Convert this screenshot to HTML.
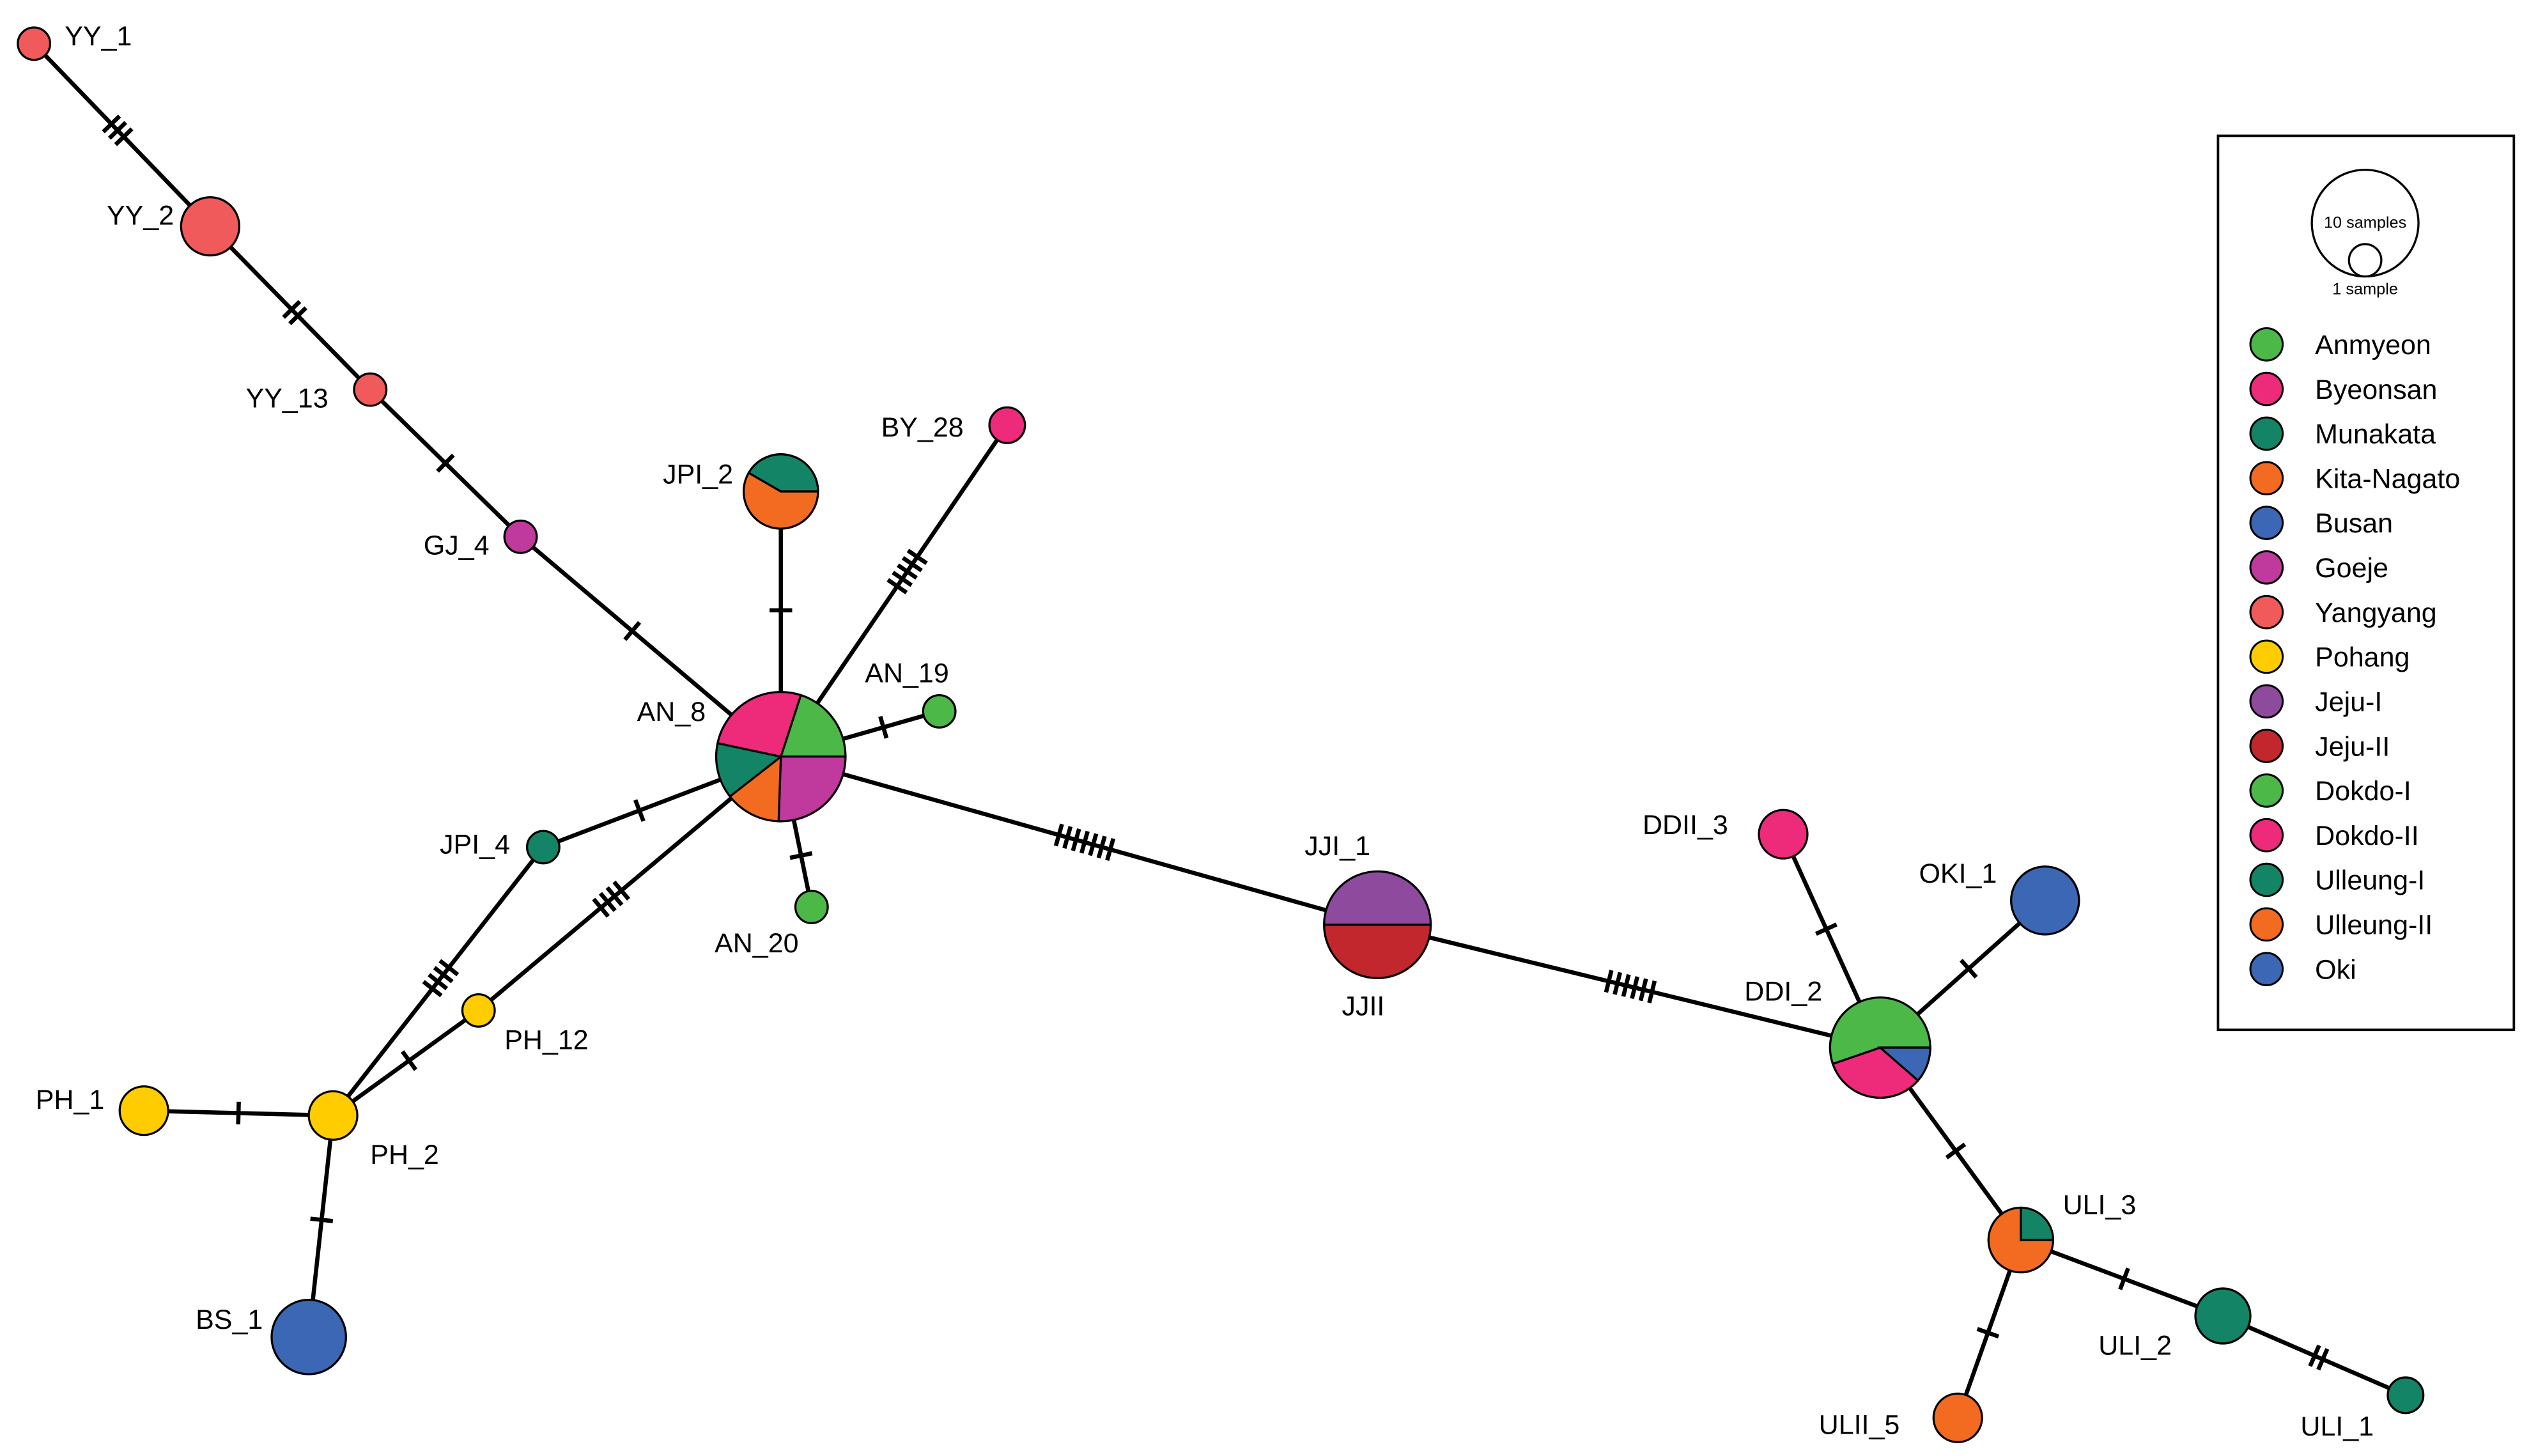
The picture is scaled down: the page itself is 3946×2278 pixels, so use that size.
<!DOCTYPE html>
<html><head><meta charset="utf-8"><style>
html,body{margin:0;padding:0;background:#fff;}
svg{display:block;}
text{font-family:"Liberation Sans",Arial,sans-serif;}
</style></head><body>
<svg id="s" width="3946" height="2278" viewBox="0 0 1560 900.6" xmlns="http://www.w3.org/2000/svg">
<rect x="0" y="0" width="1560" height="901" fill="#fff"/>
<g id="edges" stroke="#000" stroke-width="2.6" fill="none"></g>
<g id="nodes" stroke="#000" stroke-width="1.3"></g>
<g id="labels" font-size="17" fill="#000"></g>
<g id="legend">
<rect x="1372" y="84" width="183" height="553" fill="#fff" stroke="#000" stroke-width="1.5"/>
<circle cx="1463" cy="138" r="33" fill="#fff" stroke="#000" stroke-width="1.3"/>
<circle cx="1463" cy="161" r="10" fill="#fff" stroke="#000" stroke-width="1.3"/>
<text x="1463" y="141" font-size="10" text-anchor="middle">10 samples</text>
<text x="1463" y="182" font-size="10" text-anchor="middle">1 sample</text>
</g>
</svg>
<script>
var C={g:"#4cb848",p:"#ee2a7b",t:"#138466",o:"#f26b21",b:"#3b67b4",m:"#c0399c",r:"#f05a5a",y:"#ffcc00",pu:"#8e4b9e",dr:"#c1272d"};
var N={
YY_1:[21,27,10,[["r",0,360]]],YY_2:[130,140,18,[["r",0,360]]],YY_13:[229,241,10,[["r",0,360]]],
GJ_4:[322,332,10,[["m",0,360]]],
AN_8:[483,468,40,[["g",18,90],["m",90,182],["o",182,232],["t",232,282],["p",282,378]]],
JPI_2:[483,304,23,[["t",300,450],["o",90,300]]],
BY_28:[623,263,11,[["p",0,360]]],AN_19:[581,440,10,[["g",0,360]]],AN_20:[502,561,10,[["g",0,360]]],
JPI_4:[336,524,10,[["t",0,360]]],PH_12:[296,625,10,[["y",0,360]]],PH_1:[89,687,15,[["y",0,360]]],
PH_2:[206,690,15,[["y",0,360]]],BS_1:[191,827,23,[["b",0,360]]],
JJI:[852,572,33,[["pu",270,450],["dr",90,270]]],
DDII_3:[1103,516,15,[["p",0,360]]],OKI_1:[1265,557,21,[["b",0,360]]],
DDI_2:[1163,648,31,[["g",251,450],["b",90,131],["p",131,251]]],
ULI_3:[1250,767,20,[["t",0,90],["o",90,360]]],ULI_2:[1375,814,17,[["t",0,360]]],
ULI_1:[1488,863,11,[["t",0,360]]],ULII_5:[1211,877,15,[["o",0,360]]]};
var E=[["YY_1","YY_2",3],["YY_2","YY_13",2],["YY_13","GJ_4",1],["GJ_4","AN_8",1],["AN_8","JPI_2",1],
["AN_8","BY_28",5],["AN_8","AN_19",1],["AN_8","AN_20",1],["AN_8","JPI_4",1],["AN_8","PH_12",4],
["JPI_4","PH_2",4],["PH_12","PH_2",1],["PH_1","PH_2",1],["PH_2","BS_1",1],["AN_8","JJI",7],
["JJI","DDI_2",6],["DDII_3","DDI_2",1],["OKI_1","DDI_2",1],["DDI_2","ULI_3",1],["ULI_3","ULI_2",1],
["ULI_2","ULI_1",2],["ULI_3","ULII_5",1]];
var NS="http://www.w3.org/2000/svg";
function el(t,a,p){var e=document.createElementNS(NS,t);for(var k in a)e.setAttribute(k,a[k]);p.appendChild(e);return e;}
var eg=document.getElementById("edges"),ng=document.getElementById("nodes"),lg=document.getElementById("labels");
E.forEach(function(e){var a=N[e[0]],b=N[e[1]];
el("line",{x1:a[0],y1:a[1],x2:b[0],y2:b[1]},eg);
var dx=b[0]-a[0],dy=b[1]-a[1],L=Math.hypot(dx,dy),ux=dx/L,uy=dy/L;
var s0=a[2],s1=L-b[2],mid=(s0+s1)/2,n=e[2],sp=5.5;
for(var i=0;i<n;i++){var s=mid+(i-(n-1)/2)*sp;var cx=a[0]+ux*s,cy=a[1]+uy*s;
el("line",{x1:cx-uy*7,y1:cy+ux*7,x2:cx+uy*7,y2:cy-ux*7},eg);}
});
function pt(x,y,r,a){a=a*Math.PI/180;return [x+r*Math.sin(a),y-r*Math.cos(a)];}
for(var k in N){var n=N[k],x=n[0],y=n[1],r=n[2];
n[3].forEach(function(s){var c=C[s[0]];
if(s[2]-s[1]>=360){el("circle",{cx:x,cy:y,r:r,fill:c},ng);return;}
var p1=pt(x,y,r,s[1]),p2=pt(x,y,r,s[2]),lf=(s[2]-s[1])>180?1:0;
el("path",{d:"M"+x+","+y+"L"+p1[0]+","+p1[1]+"A"+r+","+r+" 0 "+lf+" 1 "+p2[0]+","+p2[1]+"Z",fill:c},ng);});
}
var T=[["YY_1",40,28],["YY_2",66,139],["YY_13",152,252],["GJ_4",262,343],["JPI_2",410,299],["BY_28",545,270],
["AN_19",535,422],["AN_8",394,446],["JPI_4",272,528],["AN_20",442,589],["PH_12",312,649],["PH_1",22,686],
["PH_2",229,720],["BS_1",121,822],["JJI_1",807,529],["JJII",830,628],["DDII_3",1016,516],["OKI_1",1187,546],
["DDI_2",1079,619],["ULI_3",1276,751],["ULI_2",1298,838],["ULII_5",1125,887],["ULI_1",1423,888]];
T.forEach(function(t){var e=el("text",{x:t[1],y:t[2]},lg);e.textContent=t[0];});
var L=[["Anmyeon","g"],["Byeonsan","p"],["Munakata","t"],["Kita-Nagato","o"],["Busan","b"],["Goeje","m"],
["Yangyang","r"],["Pohang","y"],["Jeju-I","pu"],["Jeju-II","dr"],["Dokdo-I","g"],["Dokdo-II","p"],
["Ulleung-I","t"],["Ulleung-II","o"],["Oki","b"]];
var leg=document.getElementById("legend");
L.forEach(function(l,i){var y=213+i*27.6;
el("circle",{cx:1402,cy:y,r:10,fill:C[l[1]],stroke:"#000","stroke-width":1.2},leg);
var t=el("text",{x:1432,y:y+6,"font-size":17},leg);t.textContent=l[0];});
</script>
</body></html>
